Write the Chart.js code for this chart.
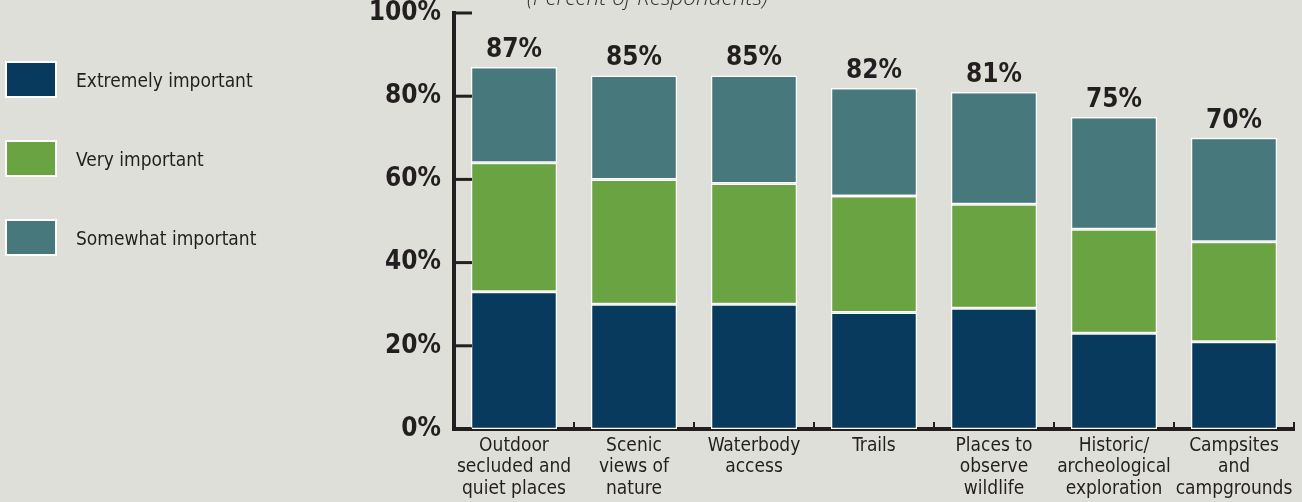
<!DOCTYPE html>
<html>
<head>
<meta charset="utf-8">
<script src="https://cdn.jsdelivr.net/npm/chart.js@4.4.1/dist/chart.umd.min.js"></script>
<style>
  html, body { margin: 0; padding: 0; background: #dfdfd9; }
  #wrap { position: relative; width: 1302px; height: 502px; overflow: hidden; }
  #title { position: absolute; left: 527px; top: -19px; font: italic 300 22.5px "Open Sans", sans-serif; color: #333; white-space: nowrap; }
  #legend { position: absolute; left: 5px; top: 61px; }
  .item { display: flex; align-items: center; height: 37px; margin-bottom: 42px; font: 19px "DejaVu Sans Condensed", "DejaVu Sans", sans-serif; color: #231f20; }
  .box { width: 48px; height: 33px; border: 2px solid #fff; margin-right: 19px; }
</style>
</head>
<body>
<div id="wrap">
  <canvas id="chart"></canvas>
  <div id="title">(Percent of Respondents)</div>
  <div id="legend"></div>
</div>
<script>
// categories (x axis)
const categories = [
    ["Outdoor", "secluded and", "quiet places"],
    ["Scenic", "views of", "nature"],
    ["Waterbody", "access"],
    ["Trails"],
    ["Places to", "observe", "wildlife"],
    ["Historic/", "archeological", "exploration"],
    ["Campsites", "and", "campgrounds"]
];

// series (percent)
const extremelyImportant = [33, 30, 30, 28, 29, 23, 21];
const veryImportant = [31, 30, 29, 28, 25, 25, 24];
const somewhatImportant = [23, 25, 26, 26, 27, 27, 25];

// y ticks
const yTicks = [0, 20, 40, 60, 80, 100];

const ink = "#231f20";
const condensed = '"DejaVu Sans Condensed", "Liberation Sans Narrow", sans-serif';
const narrow = '"Liberation Sans Narrow", "DejaVu Sans Condensed", sans-serif';

// total of each bar (label above it)
const totals = categories.map((c, i) => extremelyImportant[i] + veryImportant[i] + somewhatImportant[i]);

// ticks inside the axes + totals
const decorations = {
    id: "decorations",
    afterDraw(chart) {
        const ctx = chart.ctx;
        const area = chart.chartArea;
        const xs = chart.scales.x;
        const ys = chart.scales.y;
        ctx.save();
        ctx.strokeStyle = ink;

        ctx.lineWidth = 3;
        ys.ticks.forEach(t => {
            const y = ys.getPixelForValue(t.value);
            ctx.beginPath();
            ctx.moveTo(area.left, y);
            ctx.lineTo(area.left + 18, y);
            ctx.stroke();
        });

        ctx.lineWidth = 2;
        for (let i = 0; i < categories.length; i++) {
            const x = i < categories.length - 1
                ? (xs.getPixelForValue(i) + xs.getPixelForValue(i + 1)) / 2
                : area.right;
            ctx.beginPath();
            ctx.moveTo(x, area.bottom);
            ctx.lineTo(x, area.bottom - 7);
            ctx.stroke();
        }

        const top = chart.getDatasetMeta(2);
        ctx.fillStyle = ink;
        ctx.font = "bold 26px " + narrow;
        ctx.textAlign = "center";
        ctx.textBaseline = "alphabetic";
        totals.forEach((v, i) => {
            const bar = top.data[i];
            ctx.fillText(v + "%", bar.x, bar.y - 10);
        });
        ctx.restore();
    }
};

const chart = new Chart(document.getElementById("chart"), {
    type: "bar",
    data: {
        labels: categories,
        datasets: [
            { label: "Extremely important", data: extremelyImportant, backgroundColor: "#083a5e" },
            { label: "Very important", data: veryImportant, backgroundColor: "#6aa342" },
            { label: "Somewhat important", data: somewhatImportant, backgroundColor: "#47787b" }
        ]
    },
    options: {
        responsive: true,
        maintainAspectRatio: false,
        animation: false,
        layout: { padding: { top: 13, right: 8, left: 0, bottom: 0 } },
        datasets: {
            bar: {
                barPercentage: 0.9,
                categoryPercentage: 0.8,
                borderColor: "#ffffff",
                borderWidth: 1.5,
                borderSkipped: false
            }
        },
        scales: {
            x: {
                stacked: true,
                grid: { display: false, drawTicks: false },
                border: { display: true, width: 4, color: ink },
                ticks: {
                    color: ink,
                    padding: 6,
                    maxRotation: 0,
                    autoSkip: false,
                    font: { family: condensed, size: 19, lineHeight: 1.13 }
                },
                afterFit: s => { s.height = 73; }
            },
            y: {
                stacked: true,
                min: 0,
                max: 100,
                afterBuildTicks: s => { s.ticks = yTicks.map(v => ({ value: v })); },
                grid: { display: false, drawTicks: false },
                border: { display: true, width: 4, color: ink },
                ticks: {
                    color: ink,
                    padding: 13,
                    callback: v => v + "%",
                    font: { family: narrow, size: 26, weight: "bold" }
                },
                afterFit: s => {
                    s.width = 454;
                    s.paddingTop = 0;
                    s.paddingBottom = 0;
                }
            }
        },
        plugins: {
            legend: { display: false },
            tooltip: { enabled: false }
        }
    },
    plugins: [decorations]
});

// legende a gauche, construite depuis les datasets
const legend = document.getElementById("legend");
chart.data.datasets.forEach(ds => {
    const item = document.createElement("div");
    item.className = "item";
    const box = document.createElement("div");
    box.className = "box";
    box.style.background = ds.backgroundColor;
    item.appendChild(box);
    item.appendChild(document.createTextNode(ds.label));
    legend.appendChild(item);
});
</script>
</body>
</html>
